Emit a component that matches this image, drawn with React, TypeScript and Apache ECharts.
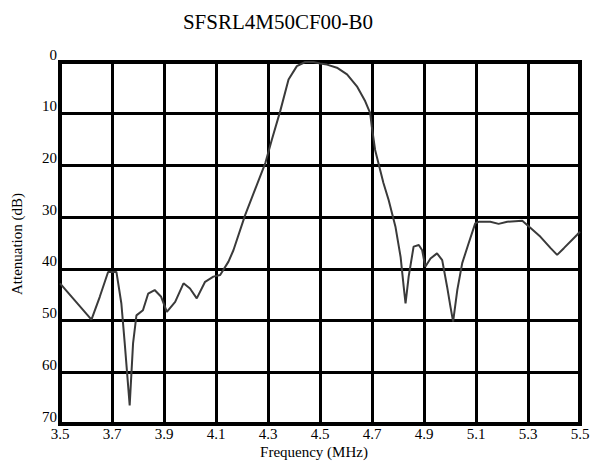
import React, { useEffect, useRef } from "react";
import * as echarts from "echarts";

const chartTitle = "SFSRL4M50CF00-B0";
const xAxisTitle = "Frequency (MHz)";
const yAxisTitle = "Attenuation (dB)";

const freqMHz = [
  3.5, 3.621, 3.653, 3.685, 3.717, 3.736, 3.749, 3.768, 3.781, 3.794, 3.819, 3.839,
  3.864, 3.889, 3.911, 3.943, 3.975, 4.0, 4.026, 4.058, 4.09, 4.116, 4.148, 4.167,
  4.212, 4.29, 4.315, 4.347, 4.379, 4.411, 4.443, 4.475, 4.5, 4.527, 4.565, 4.604,
  4.642, 4.674, 4.693, 4.699, 4.712, 4.744, 4.764, 4.79, 4.81, 4.822, 4.829, 4.841,
  4.86, 4.88, 4.893, 4.905, 4.925, 4.95, 4.97, 4.989, 5.002, 5.012, 5.028, 5.047,
  5.072, 5.097, 5.11, 5.155, 5.187, 5.22, 5.278, 5.31, 5.348, 5.387, 5.412, 5.438,
  5.489, 5.5,
];

const attenDb = [
  42.8, 49.8, 45.4, 40.6, 40.6, 46.7, 54.4, 66.4, 54.4, 49.0, 48.0, 44.8,
  44.1, 45.4, 48.3, 46.4, 42.8, 43.8, 45.7, 42.5, 41.5, 41.2, 38.6, 36.4,
  29.6, 19.5, 15.0, 9.5, 3.4, 0.8, 0.0, 0.0, 0.3, 0.5, 1.1, 2.4,
  4.7, 7.6, 9.9, 12.4, 17.0, 23.4, 26.7, 31.8, 37.7, 43.5, 46.7, 41.5,
  35.7, 35.4, 36.4, 39.6, 38.0, 37.0, 38.3, 43.5, 47.4, 50.2, 44.1, 38.9,
  35.0, 31.2, 30.9, 30.9, 31.3, 30.9, 30.7, 32.1, 33.8, 36.0, 37.3, 36.0,
  33.4, 32.8,
];

const xMin = 3.5;
const xMax = 5.5;
const xStep = 0.2;
const yMin = 0;
const yMax = 70;
const yStep = 10;

const serif = "Liberation Serif";

export default function App() {
  const ref = useRef<HTMLDivElement>(null);
  useEffect(() => {
    const chart = echarts.init(ref.current!, null, { renderer: "svg" });
    const data = freqMHz.map((f, i) => [f, attenDb[i]]);
    chart.setOption({
      animation: false,
      backgroundColor: "#ffffff",
      textStyle: { fontFamily: serif },
      grid: {
        left: 60,
        top: 62,
        right: 24,
        bottom: 44,
        show: true,
        borderColor: "#000",
        borderWidth: 4,
        backgroundColor: "transparent",
      },
      graphic: [
        {
          type: "text",
          x: 278,
          y: 22,
          style: {
            text: chartTitle,
            fontFamily: serif,
            fontSize: 21,
            fill: "#000",
            align: "center",
            verticalAlign: "middle",
          },
        },
        {
          type: "text",
          x: 314,
          y: 452,
          style: {
            text: xAxisTitle,
            fontFamily: serif,
            fontSize: 15,
            fill: "#000",
            align: "center",
            verticalAlign: "middle",
          },
        },
        {
          type: "text",
          x: 17,
          y: 244,
          rotation: Math.PI / 2,
          style: {
            text: yAxisTitle,
            fontFamily: serif,
            fontSize: 15,
            fill: "#000",
            align: "center",
            verticalAlign: "middle",
          },
        },
      ],
      xAxis: {
        type: "value",
        min: xMin,
        max: xMax,
        interval: xStep,
        axisLine: { show: false },
        axisTick: { show: false },
        splitLine: { show: true, lineStyle: { color: "#000", width: 3 } },
        axisLabel: {
          fontFamily: serif,
          fontSize: 15,
          color: "#000",
          margin: 2,
          formatter: (v: number) => v.toFixed(1),
        },
      },
      yAxis: {
        type: "value",
        inverse: true,
        min: yMin,
        max: yMax,
        interval: yStep,
        axisLine: { show: false },
        axisTick: { show: false },
        splitLine: { show: true, lineStyle: { color: "#000", width: 3 } },
        axisLabel: {
          fontFamily: serif,
          fontSize: 15,
          color: "#000",
          margin: 3,
          verticalAlign: "bottom",
          lineHeight: 15,
        },
      },
      series: [
        {
          type: "line",
          data,
          showSymbol: false,
          symbol: "none",
          lineStyle: { color: "#3a3a3a", width: 2 },
          clip: false,
          z: 5,
        },
      ],
    });
    return () => chart.dispose();
  }, []);
  return (
    <div
      ref={ref}
      style={{ position: "fixed", left: 0, top: 0, width: 604, height: 468 }}
    />
  );
}
